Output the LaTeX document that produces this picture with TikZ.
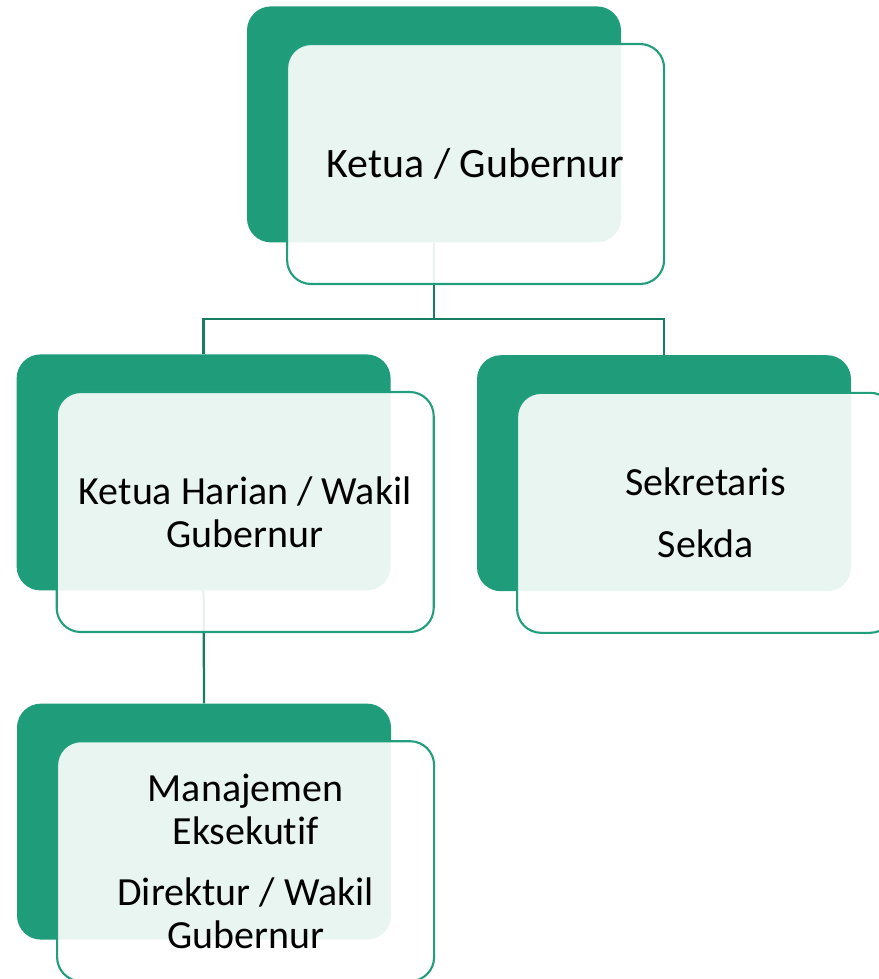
\documentclass[tikz,border=0pt]{standalone}
\usepackage{fontspec}
\setmainfont{Carlito}[Ligatures=NoCommon]
\usepackage{tikz}
\usetikzlibrary{positioning, calc}

\definecolor{orgfill}{RGB}{31,156,122}
\definecolor{orgline}{RGB}{24,124,98}
\definecolor{orgedge}{RGB}{33,158,124}

\begin{document}
\begin{tikzpicture}[
    % Core styles
    backbox/.style={
        draw=none, fill=orgfill, rounded corners=0.6cm,
        minimum width=9.35cm, minimum height=5.9cm
    },
    frontbox/.style={
        draw=orgedge, line width=1.5pt, fill=white, fill opacity=0.9,
        text opacity=1, rounded corners=0.6cm,
        minimum width=9.425cm, minimum height=6cm, align=center,
        font=\fontsize{28.4pt}{30.3pt}\selectfont
    },
    link/.style={draw=orgline, line width=1.6pt}
]

% === CANVAS ===
\useasboundingbox (0,0) rectangle (21.975,-24.475);

% === BACK BOXES ===
\node[backbox] (chief) at (10.85,-3.11) {};
\node[backbox] (deputy) at (5.09,-11.81) {};
\node[backbox] (secretary) at (16.6,-11.83) {};
\node[backbox] (executive) at (5.1,-20.54) {};

% === CONNECTORS ===
\coordinate (split) at ($(chief.south)+(0,-1.9)$);
\draw[link] (chief.south) -- (split) -| (deputy.north);
\draw[link] (split) -| (secretary.north);
\draw[link] (deputy.south) -- (executive.north);

% === FRONT BOXES ===
\node[frontbox, font=\fontsize{29.8pt}{31pt}\selectfont] (chiefF) at ($(chief)+(1.04,-0.99)$) {Ketua / Gubernur};
\node[frontbox] (deputyF) at ($(deputy)+(1.04,-0.99)$) {Ketua Harian / Wakil\\Gubernur};
\node[frontbox] (secretaryF) at ($(secretary)+(1.04,-0.99)$) {Sekretaris\\[0.5cm]Sekda};
\node[frontbox] (executiveF) at ($(executive)+(1.04,-0.99)$) {Manajemen\\Eksekutif\\[0.47cm]Direktur / Wakil\\Gubernur};

\end{tikzpicture}
\end{document}
